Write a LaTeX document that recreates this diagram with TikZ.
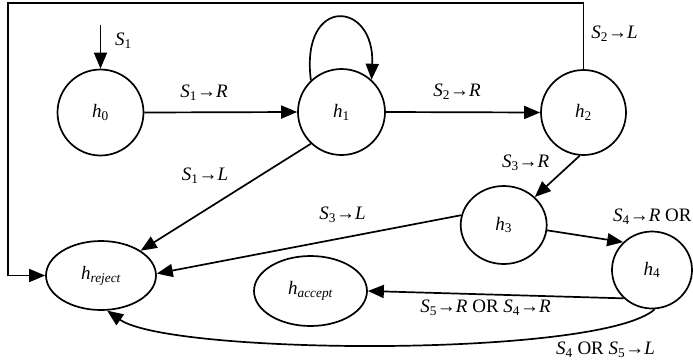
\documentclass[tikz,border=0pt]{standalone}
\usepackage{fontspec}
\setmainfont{Liberation Serif}
\usetikzlibrary{arrows.meta,shapes.geometric}
\newcommand\Ssub[1]{\textit{S}\textsubscript{#1}}
\newcommand\Hsub[1]{\textit{h}\textsubscript{#1}}
\begin{document}
\begin{tikzpicture}[x=1pt,y=-1pt,
  state/.style={draw,ellipse,line width=1.7pt,inner sep=0pt,font=\fontsize{19}{22}\selectfont},
  conn/.style={line width=1.7pt,-{Triangle[length=16pt,width=13pt]}},
  lbl/.style={font=\fontsize{19}{22}\selectfont,inner sep=0pt}]
\useasboundingbox[fill=white] (0,0) rectangle (693,362);

% states
\node[state,minimum width=86pt,minimum height=86pt] (h0) at (100.5,112.5) {\Hsub{0}};
\node[state,minimum width=87pt,minimum height=86pt] (h1) at (341.5,112) {\Hsub{1}};
\node[state,minimum width=85pt,minimum height=85pt] (h2) at (583.5,112.5) {\Hsub{2}};
\node[state,minimum width=86pt,minimum height=78pt] (h3) at (503.7,225) {\Hsub{3}};
\node[state,minimum width=80pt,minimum height=77pt] (h4) at (652,270) {\Hsub{4}};
\node[state,minimum width=110pt,minimum height=69pt] (rej) at (101,275.5) {\textit{h\textsubscript{reject}}};
\node[state,minimum width=113pt,minimum height=70pt] (acc) at (310.5,291) {\textit{h\textsubscript{accept}}};

% start
\coordinate (start) at (100.5,25);
\draw[conn] (start) -- (h0.north);
\node[lbl] (lS1) at (123.5,41) {\Ssub{1}};

% transitions
\draw[conn] (h0.east) -- (h1.west);
\node[lbl] (l01) at (204,93) {\Ssub{1}→\textit{R}};

\draw[conn] (h1.134) .. controls (300,-5) and (375,0) .. (h1.47);

\draw[conn] (h1.east) -- (h2.west);
\node[lbl] (l12) at (457,92) {\Ssub{2}→\textit{R}};

\coordinate (c1) at (583.5,3);
\coordinate (c2) at (8,3);
\coordinate (c3) at (8,275.5);
\draw[conn] (h2.north) -- (c1) -- (c2) -- (c3) -- (rej.west);
\node[lbl] (l2r) at (614.5,34) {\Ssub{2}→\textit{L}};

\draw[conn] (h1.226) -- (rej.32);
\node[lbl] (l1r) at (205,176) {\Ssub{1}→\textit{L}};

\draw[conn] (h2.265) -- (h3.42);
\node[lbl] (l23) at (525.7,163) {\Ssub{3}→\textit{R}};

\draw[conn] (h3.167) -- (rej.2);
\node[lbl] (l3r) at (342.5,215) {\Ssub{3}→\textit{L}};

\draw[conn] (h3.-7) -- (h4.136);
\node[lbl,anchor=west] (l34) at (613,217) {\Ssub{4}→\textit{R} OR};

\draw[conn] (h4.225) -- (acc.east);
\node[lbl] (l4a) at (485.5,308) {\Ssub{5}→\textit{R} OR \Ssub{4}→\textit{R}};

\draw[conn] (h4.-86) .. controls (600,358) and (170,355) .. (rej.-80);
\node[lbl] (l4r) at (605.5,350) {\Ssub{4} OR \Ssub{5}→\textit{L}};
\end{tikzpicture}
\end{document}
